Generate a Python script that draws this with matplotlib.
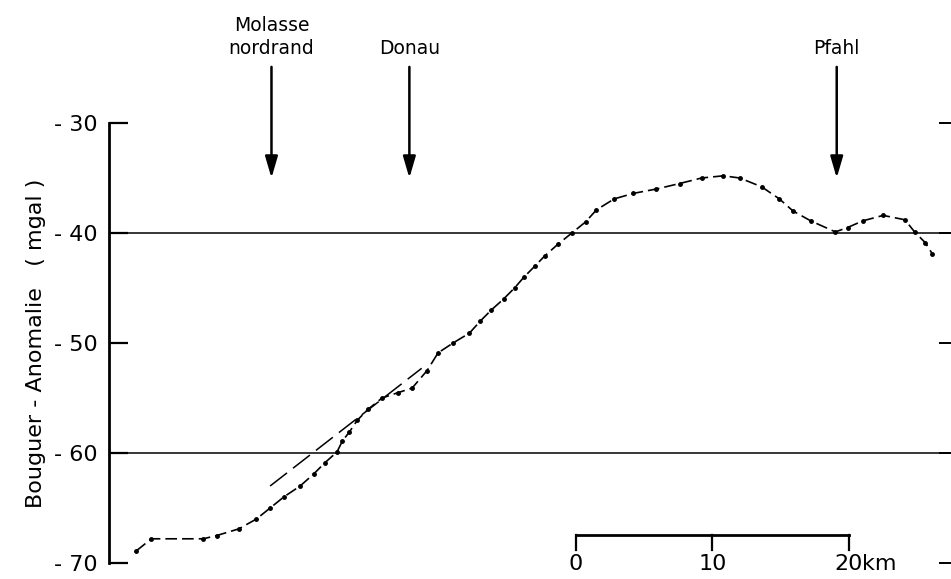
"""
    Bouguer anomaly profile across the Molasse basin, Donau and Pfahl.
"""

import numpy as np
import matplotlib
matplotlib.use("Agg")
import matplotlib.pyplot as plt

# profile distance (km, 0 = start of scale bar) and Bouguer anomaly (mgal)
profile_km = [-32.2, -31.1, -27.3, -26.3, -24.7, -23.4, -22.4, -21.4, -20.2, -19.2,
              -18.4, -17.5, -17.1, -16.6, -16.0, -15.2, -14.2, -13.0, -12.0, -10.9,
              -10.1, -9.0, -7.8, -7.0, -6.2, -5.3, -4.5, -3.8, -3.0, -2.3,
              -1.3, -0.3, 0.7, 1.5, 2.8, 4.2, 5.9, 7.6, 9.2, 10.8,
              12.0, 13.6, 14.9, 15.9, 17.2, 19.0, 19.9, 21.0, 22.5, 24.1,
              24.8, 25.6, 26.1]
anomaly_mgal = [-68.9, -67.8, -67.8, -67.5, -66.9, -66.0, -65.0, -64.0, -63.0, -61.9,
                -60.9, -59.9, -58.9, -58.1, -57.0, -56.0, -55.0, -54.5, -54.1, -52.5,
                -50.9, -50.0, -49.1, -48.0, -47.0, -46.0, -45.0, -44.0, -43.0, -42.1,
                -41.0, -40.0, -39.0, -37.9, -36.9, -36.4, -36.0, -35.5, -35.0, -34.8,
                -35.0, -35.8, -36.9, -38.0, -38.9, -39.9, -39.5, -38.9, -38.4, -38.8,
                -39.9, -40.9, -41.9]

# straight dashed trend line on the basin flank
trend_km = [-22.4, -11.3]
trend_mgal = [-63.0, -52.3]

# geological markers
marker_names = ["Molasse\nnordrand", "Donau", "Pfahl"]
marker_km = [-22.3, -12.2, 19.1]

# axis
y_ticks = [-30, -40, -50, -60, -70]
y_tick_labels = ["- 30", "- 40", "- 50", "- 60", "- 70"]
ref_levels = [-40, -60]

# scale bar
scale_ticks = [0, 10, 20]
scale_labels = ["0", "10", "20"]

fig = plt.figure(figsize=(9.51, 5.79), dpi=100)
ax = fig.add_axes([109 / 951, 16 / 579, 842 / 951, 440 / 579])
ax.set_xlim(-34.2, 27.47)
ax.set_ylim(-70, -30)

# frame: only the left axis line
for side in ["top", "right", "bottom"]:
    ax.spines[side].set_visible(False)
ax.spines["left"].set_linewidth(2)
ax.set_xticks([])
ax.set_yticks(y_ticks)
ax.set_yticklabels(y_tick_labels, fontsize=16)
ax.tick_params(axis="y", direction="in", length=14, width=1.6, pad=8, right=True)
for tick in ax.yaxis.get_major_ticks():
    tick.tick2line.set_markersize(9)
    tick.tick2line.set_markeredgewidth(1.4)
ax.set_ylabel("Bouguer - Anomalie   ( mgal )", fontsize=16, labelpad=6)

# reference lines
for lvl in ref_levels:
    ax.axhline(lvl, color="black", lw=1.1)

# profile and trend
ax.plot(profile_km, anomaly_mgal, color="black", lw=1.2, linestyle=(0, (7, 3)),
        marker="o", markersize=2.5, clip_on=False)
ax.plot(trend_km, trend_mgal, color="black", lw=1.1, linestyle=(0, (14, 5)))

# arrows with labels
for name, km in zip(marker_names, marker_km):
    ax.annotate("", xy=(km, -35.0), xytext=(km, -24.9), annotation_clip=False,
                arrowprops=dict(arrowstyle="-|>,head_length=1.3,head_width=0.38",
                                color="black", lw=1.8, shrinkA=0, shrinkB=0))
    ax.text(km, -24.1, name, ha="center", va="bottom", fontsize=13.5,
            linespacing=1.3, clip_on=False)

# scale bar
bar_y = -67.45
ax.plot([scale_ticks[0], scale_ticks[-1]], [bar_y, bar_y], color="black", lw=2)
for st, lab in zip(scale_ticks, scale_labels):
    ax.plot([st, st], [bar_y, bar_y - 1.35], color="black", lw=1.6)
    ax.text(st, -69.2, lab, ha="center", va="top", fontsize=16, clip_on=False)
ax.text(scale_ticks[-1] + 0.95, -69.2, "km", ha="left", va="top", fontsize=16,
        clip_on=False)

fig.savefig("out.png", dpi=100)
